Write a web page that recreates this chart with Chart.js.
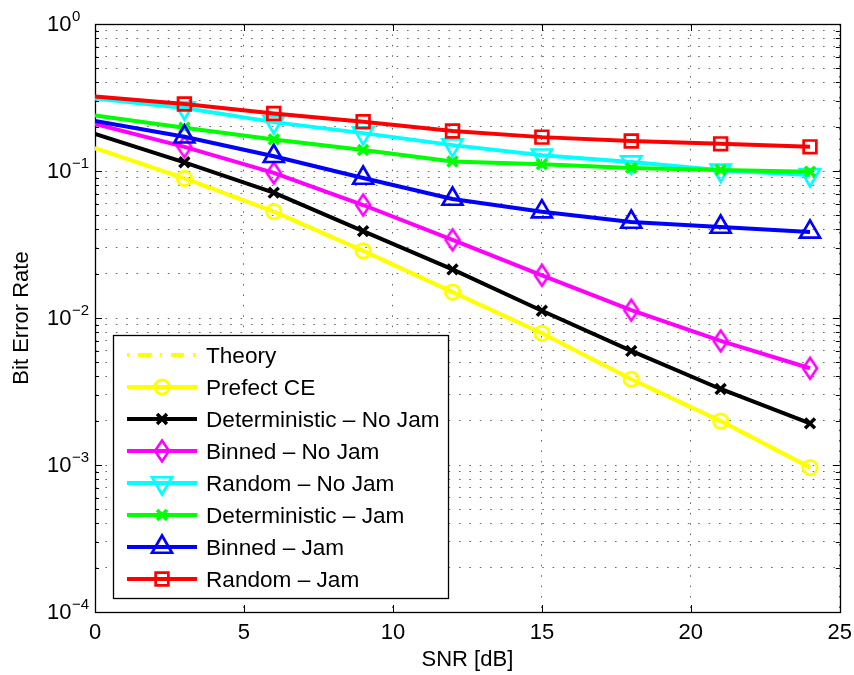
<!DOCTYPE html>
<html>
<head>
<meta charset="utf-8">
<title>Bit Error Rate vs SNR</title>
<script src="https://cdn.jsdelivr.net/npm/chart.js@4.4.1/dist/chart.umd.min.js"></script>
<style>
  html, body { margin: 0; padding: 0; background: #fff; }
</style>
</head>
<body>
<canvas id="ber" width="854" height="675"></canvas>
<script>
// SNR sweep (dB)
var snr = [0, 3, 6, 9, 12, 15, 18, 21, 24];

// bit error rate for each scheme
var theory      = [0.143, 0.0892, 0.0529, 0.0286, 0.0150, 0.00787, 0.00383, 0.00199, 0.00096];
var perfectCE   = [0.143, 0.0892, 0.0529, 0.0286, 0.0150, 0.00787, 0.00383, 0.00199, 0.00096];
var detNoJam    = [0.179, 0.1146, 0.0712, 0.0390, 0.0214, 0.0112, 0.00597, 0.00329, 0.00192];
var binNoJam    = [0.209, 0.146, 0.097, 0.0587, 0.0340, 0.0195, 0.0113, 0.00698, 0.00455];
var randNoJam   = [0.311, 0.268, 0.215, 0.181, 0.150, 0.128, 0.115, 0.101, 0.094];
var detJam      = [0.239, 0.197, 0.164, 0.139, 0.116, 0.111, 0.105, 0.1016, 0.099];
var binJam      = [0.219, 0.171, 0.126, 0.0896, 0.0645, 0.0529, 0.045, 0.0416, 0.0385];
var randJam     = [0.321, 0.286, 0.246, 0.216, 0.187, 0.170, 0.160, 0.153, 0.146];

var names = ['Theory', 'Prefect CE', 'Deterministic \u2013 No Jam', 'Binned \u2013 No Jam',
             'Random \u2013 No Jam', 'Deterministic \u2013 Jam', 'Binned \u2013 Jam', 'Random \u2013 Jam'];

var xTicks = [0, 5, 10, 15, 20, 25];
var yExponents = [-4, -3, -2, -1, 0];

var FONT = "'Liberation Sans', Arial, Helvetica, sans-serif";

// MATLAB-like 'd' marker: diamond taller than wide
function diamondMarker(color) {
  var c = document.createElement('canvas');
  c.width = 20; c.height = 28;
  var g = c.getContext('2d');
  g.strokeStyle = color;
  g.lineWidth = 2.6;
  g.beginPath();
  g.moveTo(10, 3.5); g.lineTo(17, 14); g.lineTo(10, 24.5); g.lineTo(3, 14);
  g.closePath();
  g.stroke();
  return c;
}

function pts(ys) {
  return snr.map(function (x, i) { return { x: x, y: ys[i] }; });
}

// no marker on the first sample
function radii(r) {
  return snr.map(function (x, i) { return i === 0 ? 0 : r; });
}

function series(label, ys, color, style, r, bw, order, extra) {
  var ds = {
    label: label,
    data: pts(ys),
    borderColor: color,
    borderWidth: 4,
    borderJoinStyle: 'round',
    pointStyle: style,
    pointRadius: radii(r),
    pointBorderWidth: bw,
    pointBorderColor: color,
    pointBackgroundColor: 'rgba(0,0,0,0)',
    pointRotation: 0,
    tension: 0,
    fill: false,
    order: order
  };
  for (var k in extra) ds[k] = extra[k];
  return ds;
}

var datasets = [
  series(names[0], theory, '#ffff00', 'circle', 0, 0, 8, { borderDash: [2, 9, 13, 9], borderCapStyle: 'butt', pointRadius: 0 }),
  series(names[1], perfectCE, '#ffff00', 'circle', 7.2, 2.8, 7),
  series(names[2], detNoJam, '#000000', 'crossRot', 7, 3.5, 6),
  series(names[3], binNoJam, '#ff00ff', diamondMarker('#ff00ff'), 8, 2.6, 5),
  series(names[4], randNoJam, '#00ffff', 'triangle', 11.5, 2.7, 4, { pointRotation: 180 }),
  series(names[5], detJam, '#00ff00', 'crossRot', 7, 3.5, 3),
  series(names[6], binJam, '#0000ff', 'triangle', 11.5, 2.7, 2),
  series(names[7], randJam, '#ff0000', 'rect', 9, 2.7, 1)
];

// box, inward ticks and power-of-ten labels
var axesBox = {
  id: 'axesBox',
  beforeDatasetsDraw: function (chart) {
    var ctx = chart.ctx, a = chart.chartArea;
    var xs = chart.scales.x, ys = chart.scales.y;
    ctx.save();
    ctx.strokeStyle = '#000';
    ctx.lineWidth = 1;
    ctx.beginPath();
    xTicks.forEach(function (v) {
      var px = Math.round(xs.getPixelForValue(v)) + 0.5;
      ctx.moveTo(px, a.bottom); ctx.lineTo(px, a.bottom - 7);
      ctx.moveTo(px, a.top); ctx.lineTo(px, a.top + 7);
    });
    yExponents.forEach(function (e) {
      for (var m = 1; m <= 9; m++) {
        if (e === 0 && m > 1) break;
        var py = Math.round(ys.getPixelForValue(m * Math.pow(10, e))) + 0.5;
        var len = m === 1 ? 7 : 4;
        ctx.moveTo(a.left, py); ctx.lineTo(a.left + len, py);
        ctx.moveTo(a.right, py); ctx.lineTo(a.right - len, py);
      }
    });
    ctx.stroke();
    ctx.lineWidth = 1.3;
    ctx.strokeRect(Math.round(a.left) + 0.5, Math.round(a.top) + 0.5,
                   Math.round(a.right - a.left), Math.round(a.bottom - a.top));

    ctx.fillStyle = '#000';
    ctx.textAlign = 'left';
    ctx.textBaseline = 'middle';
    yExponents.forEach(function (e) {
      var py = ys.getPixelForValue(Math.pow(10, e));
      ctx.font = '22px ' + FONT;
      ctx.fillText('10', 47, py + 1);
      var w = ctx.measureText('10').width;
      ctx.font = '15px ' + FONT;
      ctx.fillText(e === 0 ? '0' : '\u2212' + (-e), 47 + w + 0.5, py - 7.5);
    });
    ctx.restore();
  },
  afterDraw: function (chart) {
    // legend box in the lower-left corner of the axes
    var ctx = chart.ctx, a = chart.chartArea;
    var bx = a.left + 18, by = a.bottom - 277, bw = 335, bh = 263;
    ctx.save();
    ctx.fillStyle = '#fff';
    ctx.fillRect(bx, by, bw, bh);
    ctx.strokeStyle = '#000';
    ctx.lineWidth = 1.3;
    ctx.strokeRect(Math.round(bx) + 0.5, Math.round(by) + 0.5, bw, bh);
    chart.data.datasets.forEach(function (ds, i) {
      var y = by + 20 + i * 32;
      ctx.save();
      ctx.strokeStyle = ds.borderColor;
      ctx.lineWidth = ds.borderWidth;
      ctx.lineCap = ds.borderCapStyle || 'butt';
      ctx.setLineDash(ds.borderDash || []);
      ctx.beginPath();
      ctx.moveTo(bx + 14, y); ctx.lineTo(bx + 84, y);
      ctx.stroke();
      ctx.setLineDash([]);
      var r = ds.pointRadius[1] || 0;
      if (r > 0 && Chart.helpers && Chart.helpers.drawPoint) {
        ctx.fillStyle = 'rgba(0,0,0,0)';
        ctx.strokeStyle = ds.pointBorderColor;
        ctx.lineWidth = ds.pointBorderWidth;
        Chart.helpers.drawPoint(ctx, {
          pointStyle: ds.pointStyle, rotation: ds.pointRotation,
          radius: r, borderWidth: ds.pointBorderWidth
        }, bx + 49, y);
      }
      ctx.restore();
      ctx.fillStyle = '#000';
      ctx.font = '22.6px ' + FONT;
      ctx.textAlign = 'left';
      ctx.textBaseline = 'middle';
      ctx.fillText(ds.label, bx + 93, y + 1.5);
    });
    ctx.restore();
  }
};

var gridDots = { display: true, color: '#6a6a6a', lineWidth: 1, drawTicks: false };

new Chart(document.getElementById('ber'), {
  type: 'line',
  data: { datasets: datasets },
  options: {
    responsive: false,
    animation: false,
    events: [],
    layout: { padding: { top: 24, right: 13, bottom: 0, left: 0 } },
    plugins: { legend: { display: false }, tooltip: { enabled: false } },
    scales: {
      x: {
        type: 'linear',
        min: 0, max: 25,
        grid: gridDots,
        border: { display: false, dash: [1.6, 8.8] },
        ticks: { stepSize: 5, color: '#000', padding: 8, font: { family: FONT, size: 22 } },
        title: { display: true, text: 'SNR [dB]', color: '#000', padding: { top: 0, bottom: 2 },
                 font: { family: FONT, size: 22 } },
        afterFit: function (s) { s.height = 63; s.paddingLeft = 0; s.paddingRight = 0; }
      },
      y: {
        type: 'logarithmic',
        min: 1e-4, max: 1,
        grid: gridDots,
        border: { display: false, dash: [1.6, 8.8] },
        ticks: { display: false },
        afterBuildTicks: function (s) {
          var t = [];
          yExponents.forEach(function (e) {
            for (var m = 1; m <= 9; m++) {
              if (e === 0 && m > 1) break;
              t.push({ value: m * Math.pow(10, e), major: m === 1 });
            }
          });
          s.ticks = t;
        },
        title: { display: true, text: 'Bit Error Rate', color: '#000', padding: { top: 9, bottom: 0 },
                 font: { family: FONT, size: 22 } },
        afterFit: function (s) { s.width = 95; s.paddingTop = 0; s.paddingBottom = 0; }
      }
    }
  },
  plugins: [axesBox]
});
</script>
</body>
</html>
